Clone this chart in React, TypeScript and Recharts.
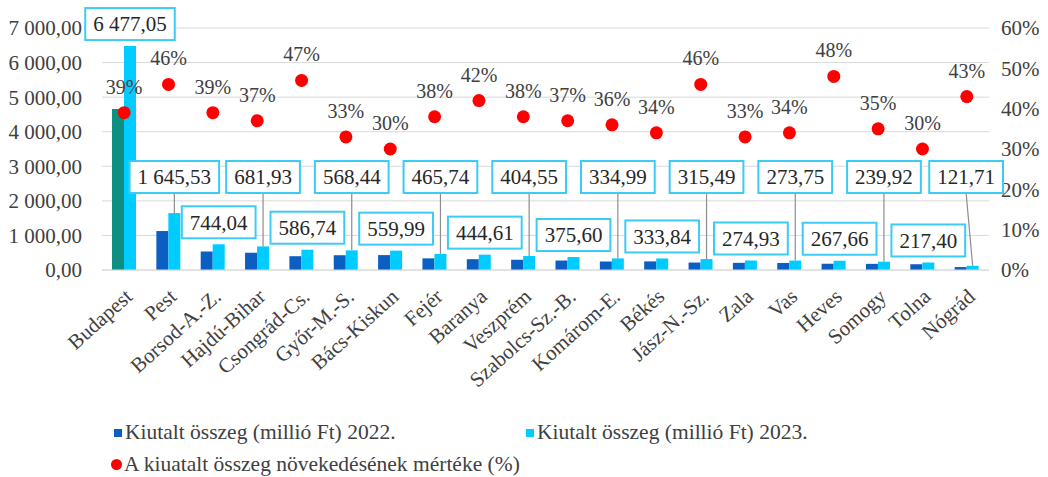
import { ComposedChart, Bar, Line, XAxis, YAxis, CartesianGrid, Legend, LabelList, Cell } from 'recharts';

const counties = [
  'Budapest', 'Pest', 'Borsod-A.-Z.', 'Hajdú-Bihar', 'Csongrád-Cs.', 'Győr-M.-S.', 'Bács-Kiskun',
  'Fejér', 'Baranya', 'Veszprém', 'Szabolcs-Sz.-B.', 'Komárom-E.', 'Békés', 'Jász-N.-Sz.',
  'Zala', 'Vas', 'Heves', 'Somogy', 'Tolna', 'Nógrád',
];

// 2022 values
const amount2022 = [
  4660, 1127, 535, 498, 399, 427, 431, 337, 313, 293, 274, 246, 249, 216, 207, 204, 181, 178, 167, 85,
];

const amount2023 = [
  6477.05, 1645.53, 744.04, 681.93, 586.74, 568.44, 559.99, 465.74, 444.61, 404.55, 375.6, 334.99,
  333.84, 315.49, 274.93, 273.75, 267.66, 239.92, 217.4, 121.71,
];

const growthPct = [39, 46, 39, 37, 47, 33, 30, 38, 42, 38, 37, 36, 34, 46, 33, 34, 48, 35, 30, 43];

const leftTicks = [0, 1000, 2000, 3000, 4000, 5000, 6000, 7000];
const rightTicks = [0, 10, 20, 30, 40, 50, 60];

const data = counties.map((name, i) => ({
  name,
  y2022: amount2022[i],
  y2023: amount2023[i],
  growth: growthPct[i],
}));

const SERIF = 'Liberation Serif, Tinos, DejaVu Serif, serif';
const COLOR_2022 = '#0B5EC2';
const COLOR_2022_BP = '#0F8F80';
const COLOR_2023 = '#00CCFF';
const BOX_BORDER = '#3CCBF4';
const TEXT = '#404040';

function huNumber(v: number) {
  const [int, dec] = v.toFixed(2).split('.');
  return int.replace(/\B(?=(\d{3})+(?!\d))/g, ' ') + ',' + dec;
}

// rough text width for the callout boxes
function boxWidth(s: string) {
  let w = 0;
  for (const ch of s) w += /\d/.test(ch) ? 10.5 : 5.25;
  return w + 16;
}

const PLOT_RIGHT = 989;

function CalloutLabel(props: any) {
  const { x, y, width, height, value, index } = props;
  const text = huNumber(Number(value));
  const bw = boxWidth(text);
  const bh = 32;
  const barCx = x + width / 2;
  const base = y + height;
  let cx = barCx;
  if (cx + bw / 2 > PLOT_RIGHT + 14) cx = PLOT_RIGHT + 14 - bw / 2;
  const high = index % 2 === 1;
  const top = high ? base - 109 : y - 6 - bh;
  return (
    <g>
      {high && <line x1={cx} y1={top + bh} x2={barCx} y2={y} stroke="#8c8c8c" strokeWidth={1.2} />}
      <rect x={cx - bw / 2} y={top} width={bw} height={bh} fill="#fff" stroke={BOX_BORDER} strokeWidth={2} />
      <text x={cx} y={top + bh / 2} dy="0.35em" textAnchor="middle" fontSize={21} style={{ fontFamily: SERIF }} fill="#262626">
        {text}
      </text>
    </g>
  );
}

function PctLabel(props: any) {
  const { x, y, value } = props;
  return (
    <text x={x} y={y - 19} textAnchor="middle" fontSize={20} style={{ fontFamily: SERIF }} fill={TEXT}>
      {value}%
    </text>
  );
}

function CountyTick(props: any) {
  const { x, y, payload } = props;
  return (
    <g transform={`translate(${x + 1},${y + 11})`}>
      <text textAnchor="end" transform="rotate(-42)" dy="0.6em" fontSize={21} style={{ fontFamily: SERIF }} fill={TEXT}>
        {payload.value}
      </text>
    </g>
  );
}

function LegendBox() {
  const item = { position: 'absolute' as const, display: 'flex', alignItems: 'center', fontFamily: SERIF, fontSize: 21.5, color: TEXT, whiteSpace: 'nowrap' as const };
  return (
    <div style={{ position: 'relative', width: 1048, height: 82 }}>
      <div style={{ ...item, left: 114, top: 25 }}>
        <span style={{ width: 8, height: 8, background: COLOR_2022, marginRight: 3 }} />
        Kiutalt összeg (millió Ft) 2022.
      </div>
      <div style={{ ...item, left: 526, top: 25 }}>
        <span style={{ width: 8, height: 8, background: COLOR_2023, marginRight: 3 }} />
        Kiutalt összeg (millió Ft) 2023.
      </div>
      <div style={{ ...item, left: 111, top: 57 }}>
        <span style={{ width: 11, height: 11, borderRadius: '50%', background: '#FF0000', marginRight: 2 }} />
        A kiuatalt összeg növekedésének mértéke (%)
      </div>
    </div>
  );
}

const tickStyle = { fontSize: 21, fontFamily: SERIF, fill: TEXT };

export default function App() {
  return (
    <div style={{ width: 1048, height: 477, background: '#fff', fontFamily: SERIF }}>
      <style>{'body{margin:0}'}</style>
      <ComposedChart width={1048} height={477} data={data} margin={{ top: 28, right: 0, left: 0, bottom: 0 }} barGap={0} barSize={12}>
        <CartesianGrid vertical={false} stroke="#D9D9D9" yAxisId="left" />
        <XAxis dataKey="name" height={125} interval={0} tickLine={false} axisLine={{ stroke: '#D9D9D9' }} tick={<CountyTick />} />
        <YAxis
          yAxisId="left"
          width={102}
          domain={[0, 7000]}
          ticks={leftTicks}
          tickFormatter={huNumber}
          axisLine={false}
          tickLine={false}
          tickSize={0}
          tickMargin={20}
          tick={tickStyle}
        />
        <YAxis
          yAxisId="right"
          orientation="right"
          width={59}
          domain={[0, 60]}
          ticks={rightTicks}
          tickFormatter={(v: number) => `${v}%`}
          axisLine={false}
          tickLine={false}
          tickSize={0}
          tickMargin={12}
          tick={tickStyle}
        />
        <Legend verticalAlign="bottom" content={<LegendBox />} />
        <Bar yAxisId="left" dataKey="y2022" fill={COLOR_2022} isAnimationActive={false}>
          {data.map((d, i) => (
            <Cell key={`c-${i}`} fill={i === 0 ? COLOR_2022_BP : COLOR_2022} />
          ))}
        </Bar>
        <Bar yAxisId="left" dataKey="y2023" fill={COLOR_2023} isAnimationActive={false}>
          <LabelList dataKey="y2023" content={<CalloutLabel />} />
        </Bar>
        <Line
          yAxisId="right"
          dataKey="growth"
          stroke="none"
          strokeWidth={0}
          dot={{ r: 6.5, fill: '#FF0000', stroke: 'none' }}
          activeDot={false}
          isAnimationActive={false}
        >
          <LabelList dataKey="growth" content={<PctLabel />} />
        </Line>
      </ComposedChart>
    </div>
  );
}
